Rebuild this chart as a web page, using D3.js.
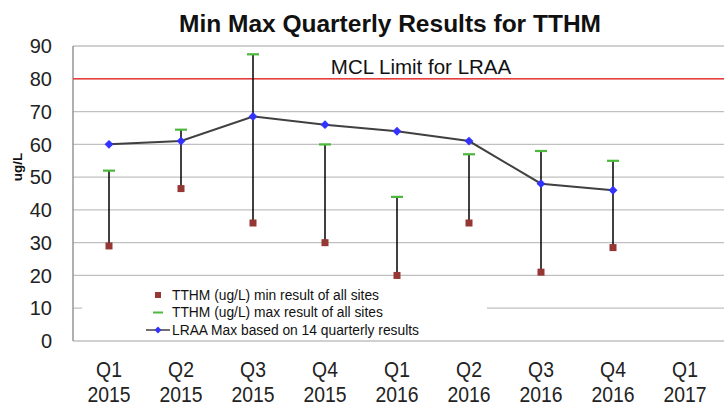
<!DOCTYPE html>
<html>
<head>
<meta charset="utf-8">
<script src="https://cdn.jsdelivr.net/npm/d3@7"></script>
<style>
  body { margin: 0; background: #fff; }
  svg { display: block; }
</style>
</head>
<body>
<div id="chart"></div>
<script>
// quarters and values
var quarters = ["Q1 2015", "Q2 2015", "Q3 2015", "Q4 2015", "Q1 2016", "Q2 2016", "Q3 2016", "Q4 2016", "Q1 2017"];
var minVals = [29, 46.5, 36, 30, 20, 36, 21, 28.5];
var maxVals = [52, 64.5, 87.5, 60, 44, 57, 58, 55];
var lraaVals = [60, 61, 68.5, 66, 64, 61, 48, 46];
var yTicks = [0, 10, 20, 30, 40, 50, 60, 70, 80, 90];
var mclLimit = 80;

var svg = d3.select("#chart").append("svg")
    .attr("width", 724)
    .attr("height", 405);

var margin = {top: 46, right: 3, bottom: 64, left: 73},
    width = 724 - margin.left - margin.right,
    height = 405 - margin.top - margin.bottom;

var g = svg.append("g")
    .attr("transform", "translate(" + margin.left + "," + margin.top + ")");

var x = d3.scaleBand().domain(quarters).range([0, width]);
var y = d3.scaleLinear().domain([0, 90]).range([height, 0]);
var cx = function(i) { return x(quarters[i]) + x.bandwidth() / 2; };

// gridlines
g.selectAll(".grid")
    .data(yTicks)
  .enter().append("line")
    .attr("class", "grid")
    .attr("x1", 0).attr("x2", width + margin.right)
    .attr("y1", function(d) { return y(d); })
    .attr("y2", function(d) { return y(d); })
    .attr("stroke", "#c0c0c0")
    .attr("stroke-width", 1.3);

// left axis
g.append("line")
    .attr("x1", 0).attr("x2", 0)
    .attr("y1", 0).attr("y2", height)
    .attr("stroke", "#868686")
    .attr("stroke-width", 1.3);

// y tick labels
g.selectAll(".ytick")
    .data(yTicks)
  .enter().append("text")
    .attr("x", -21)
    .attr("y", function(d) { return y(d); })
    .attr("dy", "0.36em")
    .attr("text-anchor", "end")
    .style("font", "20px 'Liberation Sans', Arial, sans-serif")
    .style("fill", "#222")
    .text(function(d) { return d; });

// x labels (two lines, slightly condensed)
var xl = g.selectAll(".xlab")
    .data(quarters)
  .enter().append("g")
    .attr("transform", function(d) { return "translate(" + (x(d) + x.bandwidth() / 2) + "," + height + ") scale(0.88,1)"; });
xl.append("text")
    .attr("y", 36)
    .attr("text-anchor", "middle")
    .style("font", "22px 'Liberation Sans', Arial, sans-serif")
    .style("fill", "#222")
    .text(function(d) { return d.split(" ")[0]; });
xl.append("text")
    .attr("y", 61)
    .attr("text-anchor", "middle")
    .style("font", "22px 'Liberation Sans', Arial, sans-serif")
    .style("fill", "#222")
    .text(function(d) { return d.split(" ")[1]; });

// MCL limit
g.append("line")
    .attr("x1", 0).attr("x2", width + margin.right)
    .attr("y1", y(mclLimit)).attr("y2", y(mclLimit))
    .attr("stroke", "#ee3b3b")
    .attr("stroke-width", 1.6);
g.append("text")
    .attr("x", x("Q1 2016") + x.bandwidth() / 2 + 24)
    .attr("y", y(mclLimit) - 5)
    .attr("text-anchor", "middle")
    .style("font", "20.5px 'Liberation Sans', Arial, sans-serif")
    .style("fill", "#111")
    .text("MCL Limit for LRAA");

// high-low lines (min to max)
g.selectAll(".hilo")
    .data(minVals)
  .enter().append("line")
    .attr("x1", function(d, i) { return cx(i); })
    .attr("x2", function(d, i) { return cx(i); })
    .attr("y1", function(d) { return y(d); })
    .attr("y2", function(d, i) { return y(maxVals[i]); })
    .attr("stroke", "#000")
    .attr("stroke-width", 1.5);

// LRAA line
g.append("path")
    .datum(lraaVals)
    .attr("fill", "none")
    .attr("stroke", "#404040")
    .attr("stroke-width", 2)
    .attr("d", d3.line()
        .x(function(d, i) { return cx(i); })
        .y(function(d) { return y(d); }));

// max dashes
g.selectAll(".maxm")
    .data(maxVals)
  .enter().append("rect")
    .attr("x", function(d, i) { return cx(i) - 6; })
    .attr("y", function(d) { return y(d) - 1; })
    .attr("width", 12).attr("height", 2.2)
    .attr("fill", "#4cb83c");

// min squares
g.selectAll(".minm")
    .data(minVals)
  .enter().append("rect")
    .attr("x", function(d, i) { return cx(i) - 3.5; })
    .attr("y", function(d) { return y(d) - 3.5; })
    .attr("width", 7).attr("height", 7)
    .attr("fill", "#953735");

// LRAA diamonds
var diamond = d3.symbol().type(d3.symbolDiamond2).size(50);
g.selectAll(".lraa")
    .data(lraaVals)
  .enter().append("path")
    .attr("transform", function(d, i) { return "translate(" + cx(i) + "," + y(d) + ")"; })
    .attr("d", diamond)
    .attr("fill", "#3333ff");

// legend
var lg = svg.append("g");
lg.append("rect")
    .attr("x", 82).attr("y", 284)
    .attr("width", 405).attr("height", 56)
    .attr("fill", "#fff");

var legendItems = [
  {label: "TTHM (ug/L) min result of all sites", kind: "min"},
  {label: "TTHM (ug/L) max result of all sites", kind: "max"},
  {label: "LRAA Max based on 14 quarterly results", kind: "lraa"}
];
var li = lg.selectAll(".li")
    .data(legendItems)
  .enter().append("g")
    .attr("transform", function(d, i) { return "translate(158," + (295 + i * 17.5) + ")"; });

li.each(function(d) {
  var s = d3.select(this);
  if (d.kind === "min") {
    s.append("rect").attr("x", -3).attr("y", -3).attr("width", 6).attr("height", 6).attr("fill", "#953735");
  } else if (d.kind === "max") {
    s.append("rect").attr("x", -5).attr("y", -1).attr("width", 10).attr("height", 2).attr("fill", "#4cb83c");
  } else {
    s.append("line").attr("x1", -12).attr("x2", 12).attr("y1", 0).attr("y2", 0)
        .attr("stroke", "#404040").attr("stroke-width", 1.5);
    s.append("path").attr("d", d3.symbol().type(d3.symbolDiamond2).size(30)).attr("fill", "#3333ff");
  }
});
li.append("text")
    .attr("x", 14)
    .attr("dy", "0.36em")
    .style("font", "13.8px 'Liberation Sans', Arial, sans-serif")
    .style("fill", "#111")
    .text(function(d) { return d.label; });

// y axis title
svg.append("text")
    .attr("transform", "translate(22,167) rotate(-90)")
    .attr("text-anchor", "middle")
    .style("font", "bold 13.5px 'Liberation Sans', Arial, sans-serif")
    .style("fill", "#111")
    .text("ug/L");

// title
svg.append("text")
    .attr("x", 390)
    .attr("y", 32)
    .attr("text-anchor", "middle")
    .style("font", "bold 24.5px 'Liberation Sans', Arial, sans-serif")
    .style("fill", "#111")
    .text("Min Max Quarterly Results for TTHM");
</script>
</body>
</html>
